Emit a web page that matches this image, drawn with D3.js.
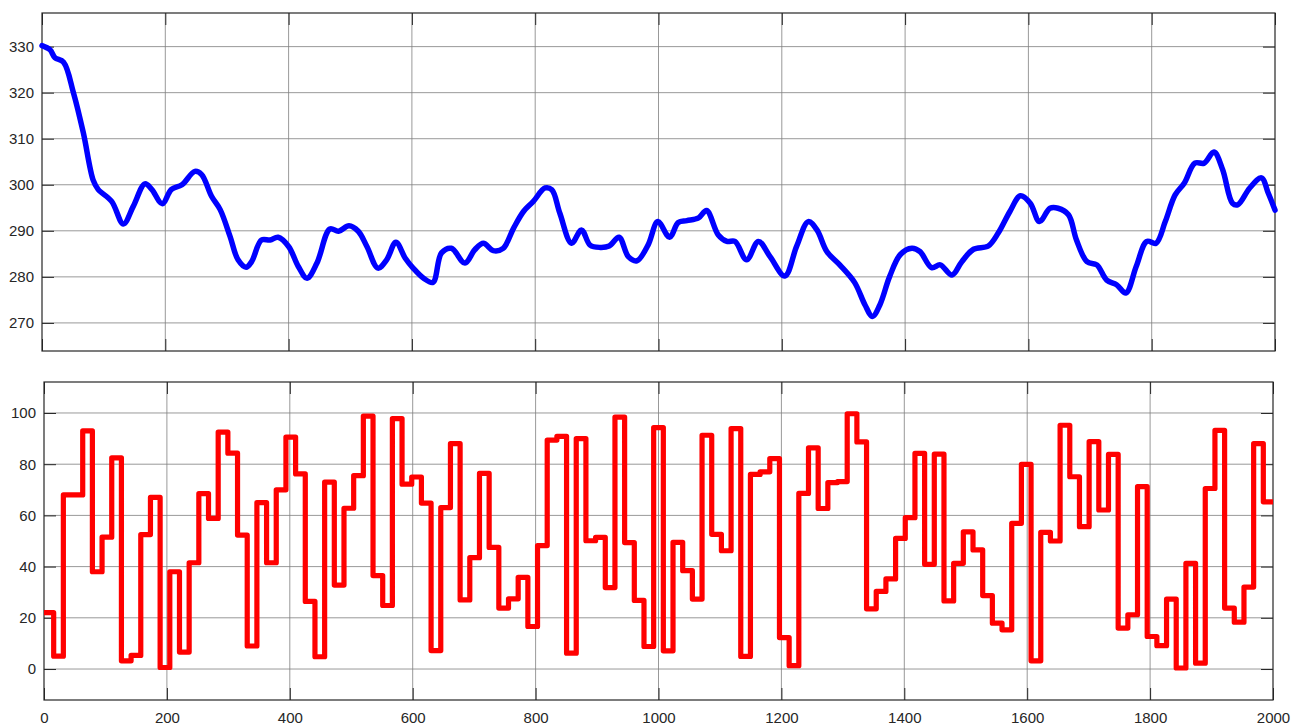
<!DOCTYPE html>
<html>
<head>
<meta charset="utf-8">
<script src="https://cdn.jsdelivr.net/npm/d3@7/dist/d3.min.js"></script>
<style>
  html, body { margin: 0; padding: 0; background: #ffffff; }
  svg { display: block; }
  .tick text { font-family: "Liberation Sans", Arial, sans-serif; font-size: 15px; fill: #262626; }
</style>
</head>
<body>
<svg id="chart" width="1291" height="726"></svg>
<script>
// Upper trace: smooth signal (sample position, value)
const topX = [0, 13, 21, 35, 51, 67, 83, 91, 113, 132, 148, 167, 178, 195, 210, 227, 248, 259, 275, 289,
  305, 318, 331, 340, 356, 370, 383, 400, 416, 430, 446, 467, 481, 498, 513, 527, 545, 559, 574, 589,
  602, 619, 634, 648, 664, 686, 702, 716, 732, 748, 765, 781, 797, 816, 827, 840, 859, 875, 889, 905,
  920, 936, 951, 965, 983, 999, 1018, 1032, 1046, 1065, 1078, 1097, 1111, 1124, 1143, 1162, 1181, 1205, 1224, 1243,
  1257, 1273, 1294, 1318, 1335, 1347, 1359, 1375, 1392, 1411, 1424, 1443, 1457, 1476, 1492, 1511, 1535, 1551, 1570, 1587,
  1603, 1618, 1635, 1648, 1665, 1678, 1695, 1711, 1727, 1743, 1758, 1775, 1792, 1807, 1822, 1838, 1853, 1870, 1885, 1901,
  1915, 1931, 1940, 1959, 1978, 1989, 2000];
const topY = [330.2, 329.3, 327.6, 326.6, 320, 311.3, 301, 299, 296.4, 291.5, 295.3, 300.2, 299, 295.9, 299, 300, 302.9, 302.2, 297.5, 294.6,
  288.8, 283.7, 282.1, 283.3, 288, 288, 288.6, 286.6, 282.2, 279.7, 283, 290.4, 289.9, 291.1, 289.9, 286.6, 281.9, 283.7, 287.5, 284.1,
  281.9, 279.7, 278.8, 285.2, 286.2, 283, 285.9, 287.3, 285.7, 286.2, 290.6, 294.2, 296.4, 299.3, 298.9, 293.8, 287.3, 290.2, 286.9, 286.4,
  286.7, 288.6, 284.4, 283.5, 286.9, 292, 288.6, 291.8, 292.2, 292.8, 294.4, 289.1, 287.7, 287.7, 283.7, 287.7, 284.4, 280.2, 286.6, 292,
  290.2, 285.5, 282.6, 278.8, 273.9, 271.4, 273.9, 280.1, 284.8, 286.2, 285.5, 282, 282.6, 280.4, 283.3, 286, 286.7, 289.5, 294.2, 297.6,
  296, 292, 294.9, 294.9, 293.5, 288, 283.3, 282.6, 279.3, 278.3, 276.5, 282.3, 287.7, 287.3, 292, 297.8, 300.4, 304.7, 304.7, 307.1,
  303.3, 296, 295.7, 299.3, 301.5, 298.2, 294.5];

// Lower trace: piecewise-constant levels, one per hold interval
const stepLevels = [22, 5, 68, 68, 93, 38, 51.5, 82.5, 3.2, 5.3, 52.5, 67, 0.6, 38, 6.6, 41.5, 68.5, 58.8, 92.5, 84.3,
  52.3, 9, 65, 41.5, 70, 90.6, 76.2, 26.4, 4.8, 73, 32.8, 62.8, 75.5, 98.8, 36.5, 24.8, 97.8, 72.2, 75, 64.8,
  7.2, 63, 88, 27, 43.5, 76.4, 47.5, 23.8, 27.4, 35.8, 16.6, 48.2, 89.4, 90.9, 6.2, 90, 50.1, 51.4, 31.8, 98.4,
  49.4, 26.8, 8.8, 94.3, 7.1, 49.5, 38.4, 27.3, 91.3, 52.6, 46.2, 93.9, 4.9, 76, 77, 82.2, 12.3, 1.3, 68.6, 86.4,
  62.7, 72.8, 73.2, 99.7, 88.7, 23.5, 30.3, 35.2, 51, 59.1, 84.2, 40.9, 83.9, 26.6, 41.3, 53.6, 46.5, 28.7, 17.9, 15.3,
  56.9, 79.9, 3.2, 53.4, 50, 95.2, 75.1, 55.6, 88.8, 62.1, 83.8, 16, 21.2, 71.2, 12.7, 9.1, 27.3, 0.4, 41.3, 2.3,
  70.5, 93.2, 23.8, 18.3, 32, 88, 65.3];

// Axis ticks
const xTicks = [0, 200, 400, 600, 800, 1000, 1200, 1400, 1600, 1800, 2000];
const topTicks = [270, 280, 290, 300, 310, 320, 330];
const botTicks = [0, 20, 40, 60, 80, 100];

const xMax = 2000;
const holdWidth = xMax / stepLevels.length;
const plain = d3.format("d");

const svg = d3.select("#chart");
svg.append("rect").attr("width", 1291).attr("height", 726).attr("fill", "#fff");

function panel(box, yDomain, yTicks, showXLabels) {
  const x = d3.scaleLinear().domain([0, xMax]).range([box.l, box.r]);
  const y = d3.scaleLinear().domain(yDomain).range([box.b, box.t]);
  const g = svg.append("g");

  // grid
  const grid = g.append("g").attr("stroke", "#808080").attr("stroke-width", 1).attr("stroke-opacity", 0.8);
  grid.selectAll(".gx").data(xTicks.filter(v => v > 0 && v < xMax)).join("line")
    .attr("x1", d => x(d)).attr("x2", d => x(d)).attr("y1", box.t).attr("y2", box.b);
  grid.selectAll(".gy").data(yTicks).join("line")
    .attr("y1", d => y(d)).attr("y2", d => y(d)).attr("x1", box.l).attr("x2", box.r);

  // inward ticks on all four sides
  const axL = d3.axisLeft(y).tickValues(yTicks).tickFormat(plain).tickSizeInner(-12).tickSizeOuter(0).tickPadding(8);
  const axR = d3.axisRight(y).tickValues(yTicks).tickSizeInner(-12).tickSizeOuter(0).tickFormat("");
  const axB = d3.axisBottom(x).tickValues(xTicks).tickFormat(showXLabels ? plain : "")
    .tickSizeInner(-12).tickSizeOuter(0).tickPadding(12);
  const axT = d3.axisTop(x).tickValues(xTicks).tickSizeInner(-12).tickSizeOuter(0).tickFormat("");

  const styleAxis = sel => {
    sel.select(".domain").remove();
    sel.selectAll(".tick line").attr("stroke", "#262626").attr("stroke-width", 1);
  };
  g.append("g").attr("transform", `translate(${box.l},0)`).call(axL).call(styleAxis);
  g.append("g").attr("transform", `translate(${box.r},0)`).call(axR).call(styleAxis);
  g.append("g").attr("transform", `translate(0,${box.b})`).call(axB).call(styleAxis);
  g.append("g").attr("transform", `translate(0,${box.t})`).call(axT).call(styleAxis);

  // box
  g.append("rect").attr("x", box.l).attr("y", box.t)
    .attr("width", box.r - box.l).attr("height", box.b - box.t)
    .attr("fill", "none").attr("stroke", "#262626").attr("stroke-width", 1.2);

  return { x, y, g };
}

// upper panel
const P1 = panel({ l: 42, r: 1275, t: 13, b: 351 }, [263.9, 337.3], topTicks, false);
const topData = topX.map((v, i) => [v, topY[i]]);
P1.g.append("path").datum(topData)
  .attr("fill", "none").attr("stroke", "#0000ff").attr("stroke-width", 5.5)
  .attr("stroke-linejoin", "round").attr("stroke-linecap", "round")
  .attr("d", d3.line().x(d => P1.x(d[0])).y(d => P1.y(d[1])).curve(d3.curveCatmullRom.alpha(0.5)));

// lower panel
const P2 = panel({ l: 44, r: 1273, t: 382, b: 700 }, [-12.1, 112.1], botTicks, true);
const stepData = stepLevels.map((v, i) => [i * holdWidth, v]);
stepData.push([xMax, stepLevels[stepLevels.length - 1]]);
P2.g.append("path").datum(stepData)
  .attr("fill", "none").attr("stroke", "#ff0000").attr("stroke-width", 5.2)
  .attr("stroke-linejoin", "round").attr("stroke-linecap", "butt")
  .attr("d", d3.line().x(d => P2.x(d[0])).y(d => P2.y(d[1])).curve(d3.curveStepAfter));
</script>
</body>
</html>
